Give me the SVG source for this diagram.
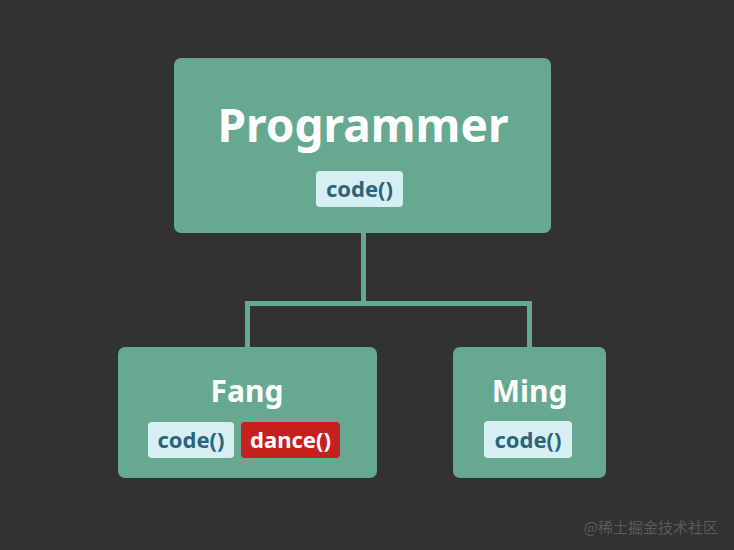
<svg xmlns="http://www.w3.org/2000/svg" width="734" height="550" viewBox="0 0 734 550">
<style>
.box{fill:#66a890}
.title{font-family:"Noto Sans","Open Sans","Liberation Sans",sans-serif;font-weight:bold;fill:#ffffff;text-anchor:middle}
.pill{fill:#d7eef3}
.pillred{fill:#c3201e}
.m{font-family:"Noto Sans","Open Sans","Liberation Sans",sans-serif;font-weight:bold;font-size:22px;text-anchor:middle}
.dark{fill:#2a6579}
.light{fill:#ffffff}
.conn{fill:none;stroke:#66a890;stroke-width:5}
</style>
<rect x="0" y="0" width="734" height="550" fill="#323232"/>
<g id="connectors">
<path class="conn" d="M363.5 232 V303.5 M247.5 350 V303.5 H529.5 V350"/>
</g>
<g id="programmer">
<rect class="box" x="174" y="58" width="377" height="175" rx="7"/>
<text class="title" x="363" y="142" font-size="46">Programmer</text>
<rect class="pill" x="316" y="171" width="87" height="36" rx="4"/>
<text class="m dark" x="359.5" y="197">code()</text>
</g>
<g id="fang">
<rect class="box" x="118" y="347" width="259" height="131" rx="7"/>
<text class="title" x="247" y="402" font-size="30">Fang</text>
<rect class="pill" x="148" y="422" width="86" height="36" rx="4"/>
<text class="m dark" x="191" y="448">code()</text>
<rect class="pillred" x="241" y="422" width="99" height="36" rx="4"/>
<text class="m light" x="290.5" y="448">dance()</text>
</g>
<g id="ming">
<rect class="box" x="453" y="347" width="153" height="131" rx="7"/>
<text class="title" x="529.5" y="402" font-size="30">Ming</text>
<rect class="pill" x="484" y="421" width="88" height="37" rx="4"/>
<text class="m dark" x="528" y="448">code()</text>
</g>
<text x="718" y="533" font-family="'Noto Sans CJK SC',sans-serif" font-size="15" fill="#5a5a5a" text-anchor="end">@稀土掘金技术社区</text>
</svg>
